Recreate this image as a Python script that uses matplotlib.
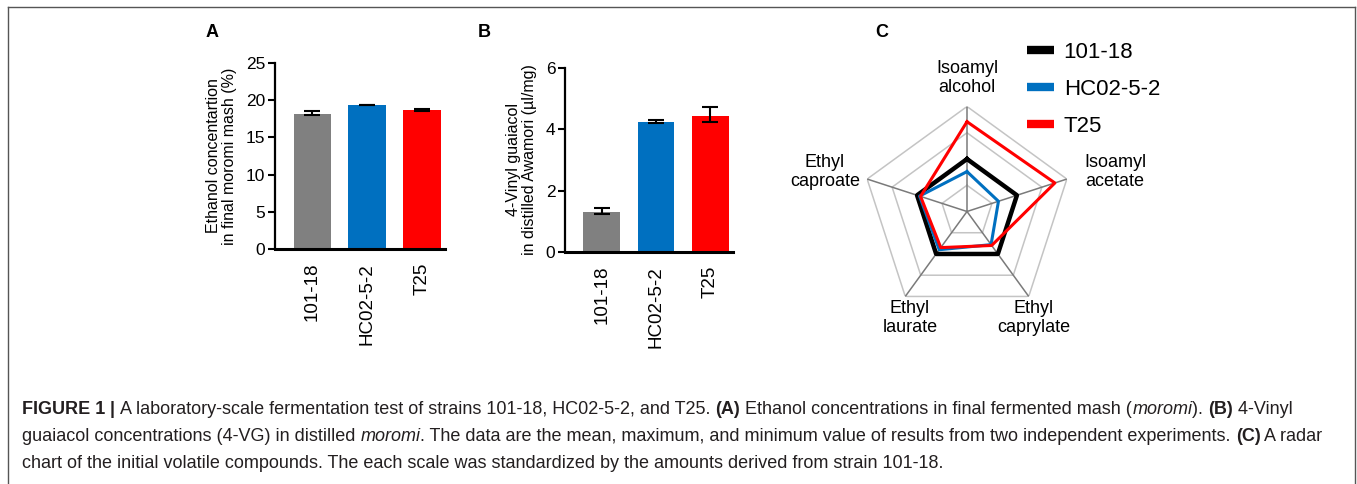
import numpy as np
import matplotlib
matplotlib.use('Agg')
import matplotlib.pyplot as plt
from matplotlib.lines import Line2D
from matplotlib import font_manager

# --- DATA ---
strains = ['101-18', 'HC02-5-2', 'T25']
bar_colors = ['#808080', '#0070c0', '#ff0000']

ethanol = [18.2, 19.3, 18.7]
ethanol_lo = [18.0, 19.3, 18.6]
ethanol_hi = [18.5, 19.3, 18.8]

vg = [1.32, 4.25, 4.45]
vg_lo = [1.25, 4.20, 4.24]
vg_hi = [1.42, 4.30, 4.72]

compounds = ['Isoamyl\nalcohol', 'Isoamyl\nacetate', 'Ethyl\ncaprylate',
             'Ethyl\nlaurate', 'Ethyl\ncaproate']
radar_101 = [1.0, 1.0, 1.0, 1.0, 1.0]
radar_hc = [0.76, 0.63, 0.78, 0.90, 0.95]
radar_t25 = [1.71, 1.76, 0.80, 0.85, 0.93]

W, H = 1357, 484
fig = plt.figure(figsize=(W / 100, H / 100), dpi=100)
plt.rcParams['font.family'] = ['Liberation Sans', 'DejaVu Sans']

names = {f.name for f in font_manager.fontManager.ttflist}
CAP_FONT = 'Liberation Sans Narrow' if 'Liberation Sans Narrow' in names else 'Liberation Sans'


def px_axes(x0, y0, x1, y1, **kw):
    # pixel box (top-left origin) -> figure axes
    return fig.add_axes([x0 / W, 1 - y1 / H, (x1 - x0) / W, (y1 - y0) / H], **kw)


def bar_panel(ax, vals, lo, hi, ymax, yticks, ylabel):
    x = np.arange(len(strains))
    err = [np.array(vals) - np.array(lo), np.array(hi) - np.array(vals)]
    ax.bar(x, vals, width=0.68, color=bar_colors, zorder=2)
    ax.errorbar(x, vals, yerr=err, fmt='none', ecolor='black', elinewidth=1.5,
                capsize=6, capthick=1.5, zorder=3)
    ax.set_ylim(0, ymax)
    ax.set_xlim(-0.68, 2.42)
    ax.set_yticks(yticks)
    ax.set_xticks(x)
    ax.set_xticklabels(strains, rotation=90, fontsize=13.5)
    ax.tick_params(axis='x', length=0, pad=10)
    ax.tick_params(axis='y', length=5, width=1.5, labelsize=12.5, pad=2)
    for s in ['top', 'right']:
        ax.spines[s].set_visible(False)
    ax.spines['left'].set_linewidth(1.6)
    ax.spines['bottom'].set_linewidth(2.2)
    ax.set_ylabel(ylabel, fontsize=11.5, linespacing=1.1, labelpad=6)


# Panel A
axA = px_axes(275, 63, 445, 249)
bar_panel(axA, ethanol, ethanol_lo, ethanol_hi, 25, [0, 5, 10, 15, 20, 25],
          'Ethanol concentartion\nin final moromi mash (%)')

# Panel B
axB = px_axes(565, 68, 733, 252)
bar_panel(axB, vg, vg_lo, vg_hi, 6, [0, 2, 4, 6],
          '4-Vinyl guaiacol\nin distilled Awamori (\u00b5l/mg)')

# Panel C - radar
R = 105
axC = px_axes(967 - R, 211.5 - R, 967 + R, 211.5 + R, projection='polar')
n = len(compounds)
ang = np.linspace(0, 2 * np.pi, n, endpoint=False)
ang_c = np.append(ang, ang[0])
axC.set_theta_offset(np.pi / 2)
axC.set_theta_direction(-1)
axC.set_ylim(0, 2)
axC.axis('off')
for r in [0.5, 1.0, 1.5, 2.0]:
    axC.plot(ang_c, [r] * (n + 1), color='#c4c4c4', lw=1.1, zorder=1)
for a in ang:
    axC.plot([a, a], [0, 2], color='#7a7a7a', lw=1.1, zorder=1)
axC.plot(ang_c, radar_101 + radar_101[:1], color='black', lw=3.2, zorder=3)
axC.plot(ang_c, radar_hc + radar_hc[:1], color='#0070c0', lw=2.2, zorder=4)
axC.plot(ang_c, radar_t25 + radar_t25[:1], color='#ff0000', lw=2.2, zorder=5)

# compound labels (pixel centres)
lab_pos = [(967, 78), (1115, 172), (1034, 318), (910, 318), (825, 172)]
for lab, (px, py) in zip(compounds, lab_pos):
    fig.text(px / W, 1 - py / H, lab, ha='center', va='center', fontsize=13,
             linespacing=1.15)

# legend
handles = [Line2D([], [], color=c, lw=6, solid_capstyle='butt')
           for c in ['black', '#0070c0', '#ff0000']]
fig.legend(handles, strains, loc='upper left', bbox_to_anchor=(1027 / W, 1 - 42 / H),
           frameon=False, fontsize=16, handlelength=1.2, handletextpad=0.45,
           labelspacing=0.72, borderpad=0, borderaxespad=0)

# panel letters
for lab, px in [('A', 212), ('B', 484), ('C', 882)]:
    fig.text(px / W, 1 - 33 / H, lab, ha='center', va='center', fontsize=13,
             fontweight='bold')

# outer frame
frame_kw = dict(color='#555555', lw=1.0, transform=fig.transFigure)
fig.add_artist(Line2D([8 / W, 8 / W], [0, 1 - 7 / H], **frame_kw))
fig.add_artist(Line2D([8 / W, 1355 / W], [1 - 7 / H, 1 - 7 / H], **frame_kw))
fig.add_artist(Line2D([1355 / W, 1355 / W], [0, 1 - 7 / H], **frame_kw))

# --- CAPTION (mixed bold / italic runs) ---
caption = [
    [('FIGURE 1', 'bold'), (' | ', 'bold'),
     ('A laboratory-scale fermentation test of strains 101-18, HC02-5-2, and T25. ', 'normal'),
     ('(A)', 'bold'), (' Ethanol concentrations in final fermented mash (', 'normal'),
     ('moromi', 'italic'), ('). ', 'normal'), ('(B)', 'bold'), (' 4-Vinyl', 'normal')],
    [('guaiacol concentrations (4-VG) in distilled ', 'normal'), ('moromi', 'italic'),
     ('. The data are the mean, maximum, and minimum value of results from two independent experiments. ', 'normal'),
     ('(C)', 'bold'), (' A radar', 'normal')],
    [('chart of the initial volatile compounds. The each scale was standardized by the amounts derived from strain 101-18.', 'normal')],
]
cap_size = 13.0
renderer = fig.canvas.get_renderer()
for i, line in enumerate(caption):
    x = 22
    y = 410 + i * 26.5
    for txt, style in line:
        kw = dict(fontsize=cap_size, family=CAP_FONT, va='center', ha='left',
                  color='#231f20')
        if style == 'bold':
            kw['fontweight'] = 'bold'
        if style == 'italic':
            kw['fontstyle'] = 'italic'
        t = fig.text(x / W, 1 - y / H, txt, **kw)
        bb = t.get_window_extent(renderer=renderer)
        x += bb.width

fig.savefig('out.png', dpi=100)
